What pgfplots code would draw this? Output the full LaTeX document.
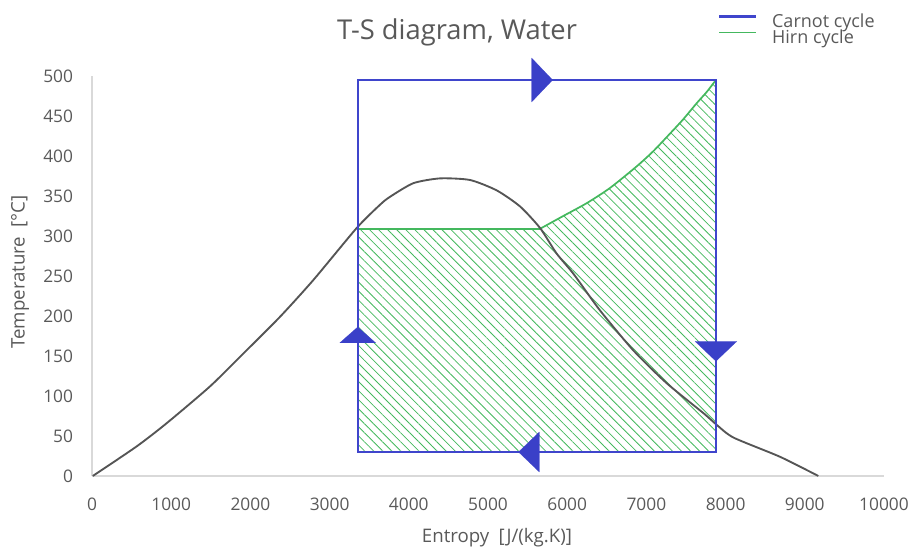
\documentclass[border=0pt]{standalone}
\usepackage{pgfplots}
\pgfplotsset{compat=1.18}
\usepackage{fontspec}
\setmainfont{Open Sans}
\usetikzlibrary{patterns.meta}
\definecolor{carnot}{RGB}{63,69,204}
\definecolor{arrowblue}{RGB}{58,64,200}
\definecolor{hirn}{RGB}{68,184,94}
\definecolor{dome}{RGB}{85,85,85}
\definecolor{axgray}{RGB}{217,217,217}
\definecolor{txt}{RGB}{89,89,89}
\begin{document}
\begin{tikzpicture}
\begin{axis}[name=ax, scale only axis, width=594pt, height=300pt,
  xmin=0, xmax=10000, ymin=0, ymax=500, clip=false,
  axis x line*=bottom, axis y line*=left,
  axis line style={draw=axgray, line width=1pt, -},
  major tick length=0pt,
  xtick={0,1000,...,10000}, ytick={0,50,...,500},
  scaled ticks=false,
  /pgf/number format/1000 sep={},
  /pgf/number format/assume math mode=true,
  tick label style={font=\fontsize{13}{15}\selectfont, text=txt, inner sep=0pt},
  xticklabel style={anchor=north, yshift=-16pt},
  yticklabel style={anchor=east, xshift=-14pt},
  title={T-S diagram, Water},
  every axis title/.style={font=\fontsize{20.5}{24}\selectfont, text=txt, at={(axis description cs:0.5,1)}, anchor=center, xshift=-23.25pt, yshift=33pt},
  xlabel={Entropy\hspace{0.5em}[J/(kg.K)]},
  ylabel={Temperature\hspace{0.5em}[°C]},
  every axis x label/.style={font=\fontsize{14}{16}\selectfont, text=txt, at={(axis description cs:0.5,0)}, anchor=center, xshift=6.75pt, yshift=-46.5pt},
  every axis y label/.style={font=\fontsize{14}{16}\selectfont, text=txt, at={(axis description cs:0,0.5)}, anchor=center, xshift=-54pt, yshift=3pt, rotate=90},
  legend image code/.code={\draw[#1] (0pt,4.2pt) -- (27.75pt,4.2pt);},
  legend cell align=left,
  legend style={at={(axis description cs:0.7904,1)}, anchor=south west, yshift=22.5pt,
    draw=none, fill=none, inner sep=0pt, outer sep=0pt,
    font=\fontsize{13.5}{15}\selectfont, text=txt,
    column sep=11.25pt, row sep=0.3pt, nodes={inner sep=0pt}},
]
% Hirn cycle hatch
\addplot[draw=none, pattern={Lines[angle=-45,distance=4.8pt,line width=0.6pt]}, pattern color=hirn, forget plot]
  coordinates {(3355,30) (3355,309) (5657,309) (5950,325) (6246,341) (6540,360) (6877,387) (7087,406) (7298,428) (7466,446) (7635,466) (7761,480) (7878,495) (7878,30)};
% Hirn cycle top line
\addplot[hirn, line width=1.3pt, forget plot]
  coordinates {(3355,309) (5657,309)};
\addplot[hirn, line width=1.3pt, smooth, tension=0.4, forget plot]
  coordinates {(5657,309) (5950,325) (6246,341) (6540,360) (6877,387) (7087,406) (7298,428) (7466,446) (7635,466) (7761,480) (7878,495)};
% saturation dome
\addplot[dome, line width=1.4pt, smooth, tension=0.4, forget plot]
  coordinates {(10,0) (564,37) (943,66) (1490,112) (1910,153) (2374,199) (2795,245) (3342,310) (3636,339) (3763,349) (4057,366) (4394,372) (4773,370) (5110,357) (5404,337) (5657,310) (5867,278) (6077,253) (6414,207) (6835,157) (7256,116) (7727,78) (7887,64) (8100,48) (8687,24) (9171,0)};
% Carnot cycle
\addplot[carnot, line width=1.6pt, line join=miter, forget plot]
  coordinates {(5560,30) (3355,30) (3355,495) (7878,495) (7878,30) (5400,30)};
% arrows
\addplot[only marks, mark=triangle*, mark size=19pt, mark options={fill=arrowblue, draw=arrowblue, line width=0.1pt, rotate=-90, yscale=0.55}, forget plot]
  coordinates {(5640,495)};
\addplot[only marks, mark=triangle*, mark size=17.3pt, mark options={fill=arrowblue, draw=arrowblue, line width=0.1pt, rotate=90, yscale=0.6}, forget plot]
  coordinates {(5560,30)};
\addplot[only marks, mark=triangle*, mark size=15.6pt, mark options={fill=arrowblue, draw=arrowblue, line width=0.1pt, rotate=0, yscale=0.51}, forget plot]
  coordinates {(3355,173)};
\addplot[only marks, mark=triangle*, mark size=18.1pt, mark options={fill=arrowblue, draw=arrowblue, line width=0.1pt, rotate=180, yscale=0.55}, forget plot]
  coordinates {(7878,160)};
\addlegendimage{carnot, line width=1.6pt}
\addlegendentry{Carnot cycle}
\addlegendimage{hirn, line width=1.3pt}
\addlegendentry{Hirn cycle}
\end{axis}
\pgfresetboundingbox
\path ([xshift=-69pt,yshift=-54pt]ax.south west) rectangle ([xshift=22.5pt,yshift=57pt]ax.north east);
\end{tikzpicture}
\end{document}
